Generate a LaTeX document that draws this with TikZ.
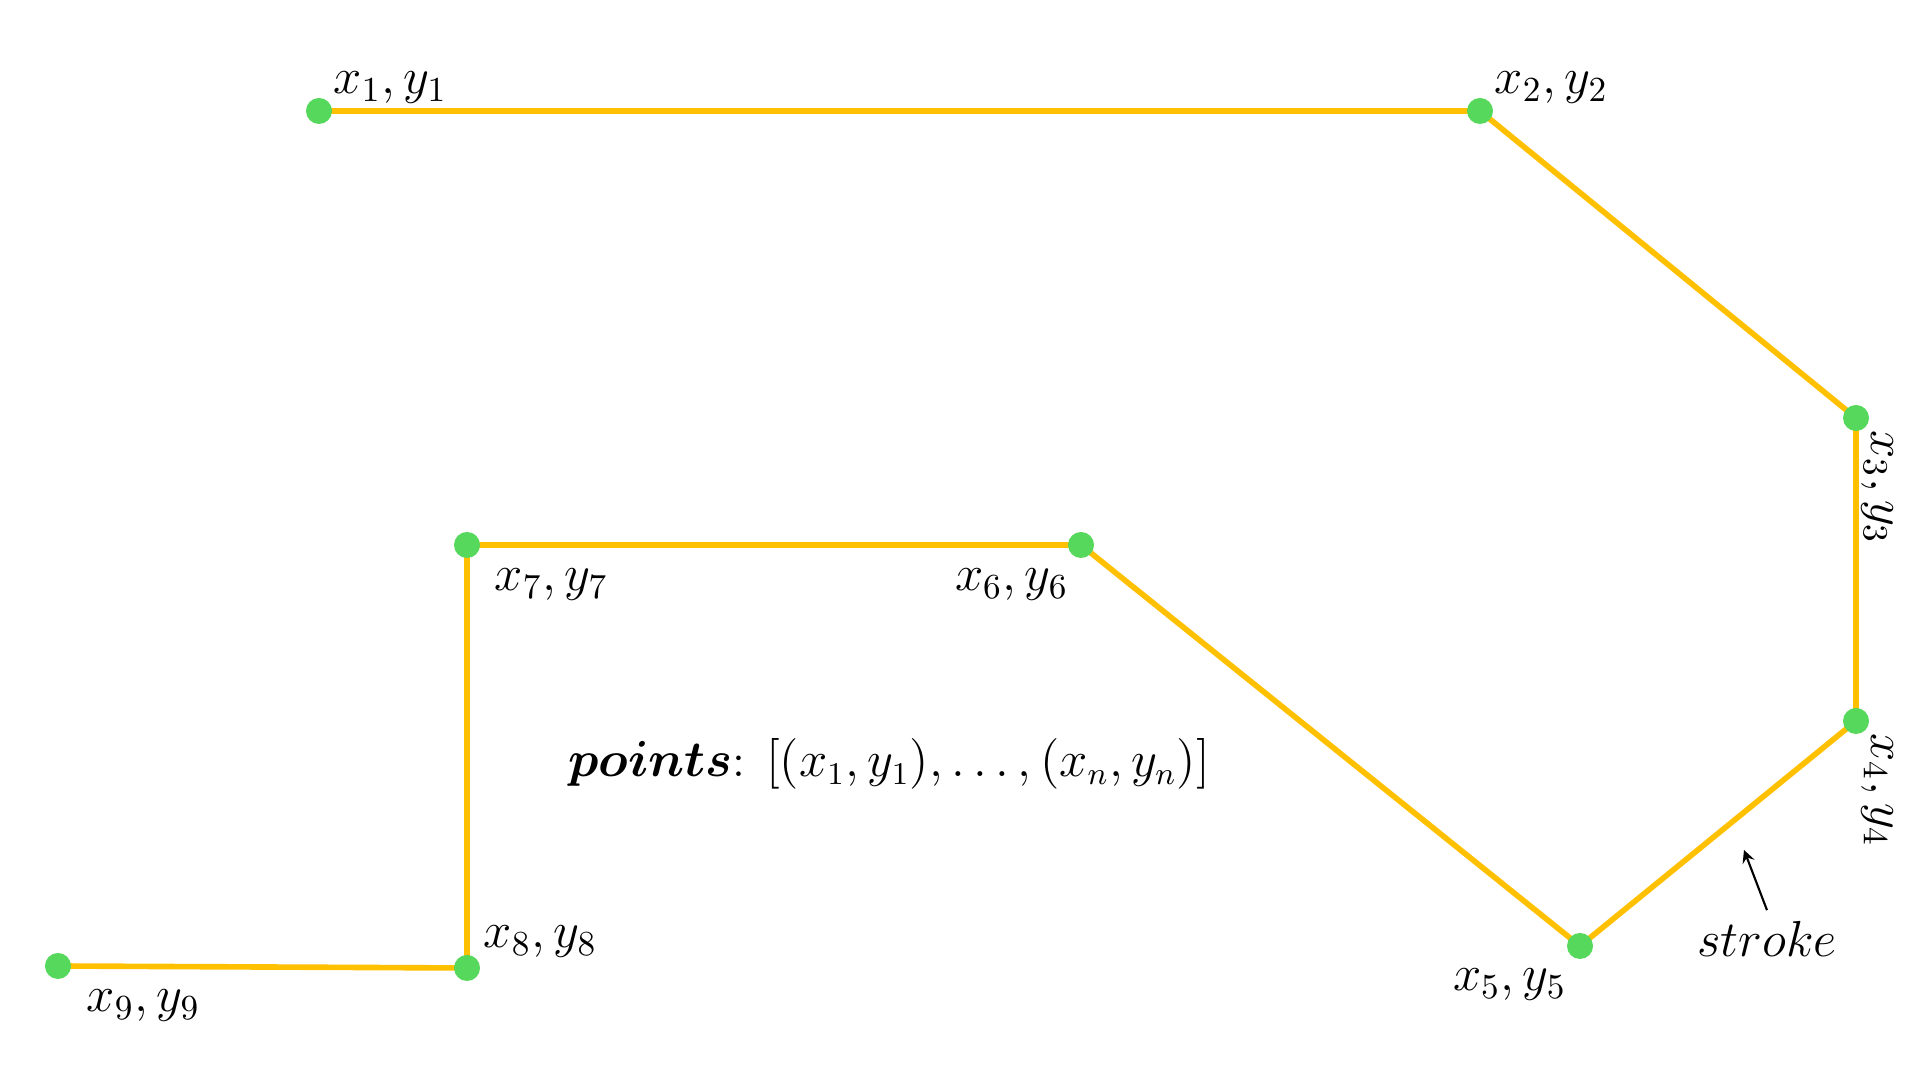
\documentclass[tikz,border=0pt]{standalone}
\usepackage{amsmath}
\usepackage{tikz}
\usetikzlibrary{positioning,arrows}
\definecolor{strokeyellow}{RGB}{255,192,0}
\definecolor{dotgreen}{RGB}{86,216,92}
\tikzstyle{dot}   = [circle, fill=dotgreen, inner sep=0pt, minimum size=0.26cm]
\tikzstyle{lbl}   = [inner sep=0pt, font=\fontsize{14.5}{17}\selectfont]
\tikzstyle{path}  = [line width=1.6pt, draw=strokeyellow]
\tikzstyle{arrow} = [semithick,->,>=stealth]

\begin{document}
\begin{tikzpicture}[x=0.01cm, y=-0.01cm]
        \useasboundingbox (0,0) rectangle (1920,1080);
        % points of the stroke
        \coordinate (p1) at (319,111);
        \coordinate (p2) at (1480,111);
        \coordinate (p3) at (1856,418);
        \coordinate (p4) at (1856,721);
        \coordinate (p5) at (1580,946);
        \coordinate (p6) at (1081,545);
        \coordinate (p7) at (467,545);
        \coordinate (p8) at (467,968);
        \coordinate (p9) at (58,966);

        \draw[path] (p1) -- (p2) -- (p3) -- (p4) -- (p5) -- (p6) -- (p7) -- (p8) -- (p9);
        \foreach \i in {1,...,9}
            \node[dot] (d\i) at (p\i) {};

        \node[lbl, anchor=south west] (l1) at (333,104) {$x_1, y_1$};
        \node[lbl, anchor=south west] (l2) at (1494,104) {$x_2, y_2$};
        \node[lbl, anchor=south west, rotate=-90] (l3) at (1861,430) {$x_3, y_3$};
        \node[lbl, anchor=south west, rotate=-90] (l4) at (1861,733) {$x_4, y_4$};
        \node[lbl, anchor=north east] (l5) at (1567,968) {$x_5, y_5$};
        \node[lbl, anchor=north east] (l6) at (1069,568) {$x_6, y_6$};
        \node[lbl, anchor=north west] (l7) at (494,568) {$x_7, y_7$};
        \node[lbl, anchor=south west] (l8) at (483,958) {$x_8, y_8$};
        \node[lbl, anchor=north west] (l9) at (86,989) {$x_9, y_9$};

        \node[lbl, font=\fontsize{13.5}{16}\selectfont] (pts) at (889,764) {$\boldsymbol{points}$: $[(x_1, y_1), \ldots, (x_n, y_n)]$};

        \node[lbl] (stroke) at (1767,939) {$stroke$};
        \coordinate (tip) at (1744,850);
        \draw[arrow] ([yshift=3pt]stroke.north) -- (tip);
    \end{tikzpicture}
\end{document}
